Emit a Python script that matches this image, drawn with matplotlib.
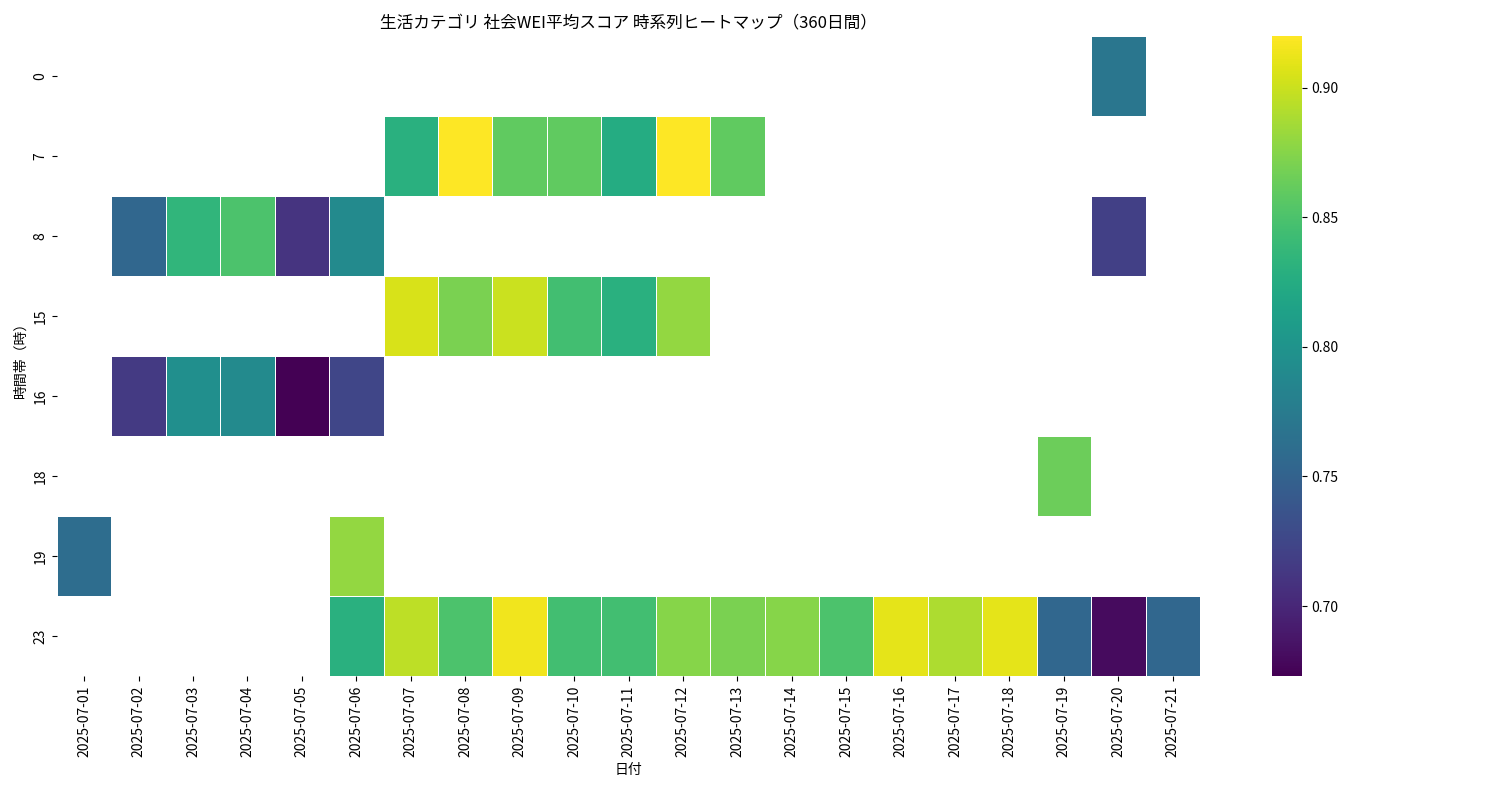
import numpy as np
import pandas as pd
import matplotlib
matplotlib.use("Agg")
import matplotlib.pyplot as plt
import seaborn as sns

plt.rcParams["font.family"] = ["Noto Sans CJK JP", "DejaVu Sans"]

dates = [f"2025-07-{d:02d}" for d in range(1, 22)]
hours = [0, 7, 8, 15, 16, 18, 19, 23]

row0 = {"2025-07-20": 0.77}
row7 = {"2025-07-07": 0.83, "2025-07-08": 0.92, "2025-07-09": 0.86, "2025-07-10": 0.86,
        "2025-07-11": 0.825, "2025-07-12": 0.92, "2025-07-13": 0.86}
row8 = {"2025-07-02": 0.755, "2025-07-03": 0.835, "2025-07-04": 0.85, "2025-07-05": 0.71,
        "2025-07-06": 0.79, "2025-07-20": 0.72}
row15 = {"2025-07-07": 0.905, "2025-07-08": 0.87, "2025-07-09": 0.90, "2025-07-10": 0.845,
         "2025-07-11": 0.83, "2025-07-12": 0.88}
row16 = {"2025-07-02": 0.715, "2025-07-03": 0.795, "2025-07-04": 0.79, "2025-07-05": 0.673,
         "2025-07-06": 0.725}
row18 = {"2025-07-19": 0.865}
row19 = {"2025-07-01": 0.76, "2025-07-06": 0.88}
row23 = {"2025-07-06": 0.83, "2025-07-07": 0.895, "2025-07-08": 0.85, "2025-07-09": 0.915,
         "2025-07-10": 0.845, "2025-07-11": 0.845, "2025-07-12": 0.875, "2025-07-13": 0.87,
         "2025-07-14": 0.875, "2025-07-15": 0.85, "2025-07-16": 0.91, "2025-07-17": 0.89,
         "2025-07-18": 0.91, "2025-07-19": 0.755, "2025-07-20": 0.68, "2025-07-21": 0.755}
rows = [row0, row7, row8, row15, row16, row18, row19, row23]

df = pd.DataFrame([[r.get(d, np.nan) for d in dates] for r in rows], index=hours, columns=dates)

fig = plt.figure(figsize=(15, 8), dpi=100)
ax = fig.add_axes([0.038, 0.155, 0.762, 0.8])
cax = fig.add_axes([0.848, 0.155, 0.020, 0.8])
sns.heatmap(df, cmap="viridis", linewidths=0.5, linecolor="white", ax=ax, cbar_ax=cax)
ax.set_title("生活カテゴリ 社会WEI平均スコア 時系列ヒートマップ（360日間）", fontsize=12)
ax.set_xlabel("日付")
ax.set_ylabel("時間帯（時）")
ax.set_xticklabels(dates, rotation=90)
ax.set_yticklabels(hours, rotation=90, va="center")
fig.savefig("out.png", dpi=100)
